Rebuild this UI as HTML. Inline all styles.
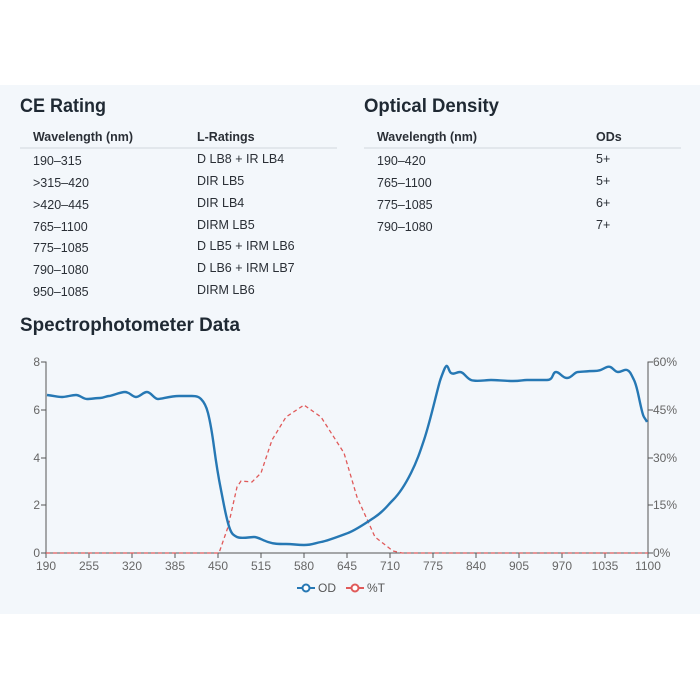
<!DOCTYPE html>
<html><head><meta charset="utf-8"><style>
html,body{margin:0;padding:0;background:#fff;}
svg{display:block;font-family:"Liberation Sans",sans-serif;}
</style></head><body>
<svg width="700" height="700" viewBox="0 0 700 700" xmlns="http://www.w3.org/2000/svg">
<rect x="0" y="85" width="700" height="529" fill="#f3f7fb"/>
<g fill="#1f2933" font-weight="bold" font-size="19">
<text x="20" y="112" textLength="86" lengthAdjust="spacingAndGlyphs">CE Rating</text>
<text x="364" y="112" textLength="135" lengthAdjust="spacingAndGlyphs">Optical Density</text>
<text x="20" y="331" textLength="220" lengthAdjust="spacingAndGlyphs">Spectrophotometer Data</text>
</g>
<g fill="#2a2f36" font-size="12.5">
<text x="33" y="141" font-weight="bold" textLength="100" lengthAdjust="spacingAndGlyphs">Wavelength (nm)</text>
<text x="197" y="141" font-weight="bold">L-Ratings</text>
<text x="377" y="141" font-weight="bold" textLength="100" lengthAdjust="spacingAndGlyphs">Wavelength (nm)</text>
<text x="596" y="141" font-weight="bold">ODs</text>
<text x="33" y="165">190–315</text><text x="197" y="163">D LB8 + IR LB4</text>
<text x="33" y="187">&gt;315–420</text><text x="197" y="185">DIR LB5</text>
<text x="33" y="209">&gt;420–445</text><text x="197" y="207">DIR LB4</text>
<text x="33" y="231">765–1100</text><text x="197" y="229">DIRM LB5</text>
<text x="33" y="252">775–1085</text><text x="197" y="250">D LB5 + IRM LB6</text>
<text x="33" y="274">790–1080</text><text x="197" y="272">D LB6 + IRM LB7</text>
<text x="33" y="296">950–1085</text><text x="197" y="294">DIRM LB6</text>
<text x="377" y="165">190–420</text><text x="596" y="163">5+</text>
<text x="377" y="187">765–1100</text><text x="596" y="185">5+</text>
<text x="377" y="209">775–1085</text><text x="596" y="207">6+</text>
<text x="377" y="231">790–1080</text><text x="596" y="229">7+</text>
</g>
<line x1="20" y1="148" x2="337" y2="148" stroke="#dde2e7" stroke-width="1.5"/>
<line x1="364" y1="148" x2="681" y2="148" stroke="#dde2e7" stroke-width="1.5"/>
<!-- axes -->
<g stroke="#555" stroke-width="1" fill="none">
<path d="M41 362H46V553M41 410H46M41 458H46M41 505H46M41 553H46"/>
<path d="M653 362H648V553M653 410H648M653 458H648M653 505H648M653 553H648"/>
<path d="M46 553H648"/>
<path d="M46 553v5M89 553v5M132 553v5M175 553v5M218 553v5M261 553v5M304 553v5M347 553v5M390 553v5M433 553v5M476 553v5M519 553v5M562 553v5M605 553v5M648 553v5"/>
</g>
<g fill="#666" font-size="12">
<g text-anchor="end"><text x="40" y="366">8</text><text x="40" y="414">6</text><text x="40" y="462">4</text><text x="40" y="509">2</text><text x="40" y="557">0</text></g>
<g><text x="653" y="366">60%</text><text x="653" y="414">45%</text><text x="653" y="462">30%</text><text x="653" y="509">15%</text><text x="653" y="557">0%</text></g>
<g text-anchor="middle"><text x="46" y="570">190</text><text x="89" y="570">255</text><text x="132" y="570">320</text><text x="175" y="570">385</text><text x="218" y="570">450</text><text x="261" y="570">515</text><text x="304" y="570">580</text><text x="347" y="570">645</text><text x="390" y="570">710</text><text x="433" y="570">775</text><text x="476" y="570">840</text><text x="519" y="570">905</text><text x="562" y="570">970</text><text x="605" y="570">1035</text><text x="648" y="570">1100</text></g>
</g>
<path d="M46 553H219L228 527L237 487L241 481L252 482L261 473L272 440L286 417L304 405L321 417L344 453L357 497L375 537L393 551L402 553H648" fill="none" stroke="#e05a5a" stroke-width="1.3" stroke-dasharray="4,3"/>
<path d="M47 395C55 396 58 397 62 397S72 395 76 395 83 399 87 399 96 398 100 398 106 396 109 396 120 392 125 392 132 397 136 397 143 392 147 392 154 399 158 399 170 396 179 396 187 396 192 396 199 397 201 399 206 405 208 413 212 432 214 447 218 475 221 490 225 512 228 523 233 535 237 537 250 537 254 537 262 540 268 542 278 544 286 544 296 545 304 545 315 543 321 542 340 536 348 533 366 523 375 517 386 507 393 500 405 485 411 473 420 452 424 440 430 420 435 400 440 380 444 370 448 371 451 373 456 372 460 372 466 378 471 380 485 380 491 380 505 381 513 381 522 380 527 380 540 380 547 380 552 372 556 372 562 378 567 378 574 372 578 372 587 371 594 371 602 369 607 367 614 372 618 372 624 369 627 370 631 374 634 380 638 394 641 407 644 416 647 422" fill="none" stroke="#2678b4" stroke-width="2.4"/>
<!-- legend -->
<line x1="297" y1="588" x2="315" y2="588" stroke="#2678b4" stroke-width="2"/>
<circle cx="306" cy="588" r="3.5" fill="#fff" stroke="#2678b4" stroke-width="2"/>
<text x="318" y="592" fill="#555" font-size="12">OD</text>
<line x1="346" y1="588" x2="364" y2="588" stroke="#e05a5a" stroke-width="2"/>
<circle cx="355" cy="588" r="3.5" fill="#fff" stroke="#e05a5a" stroke-width="2"/>
<text x="367" y="592" fill="#555" font-size="12">%T</text>
</svg>
</body></html>
